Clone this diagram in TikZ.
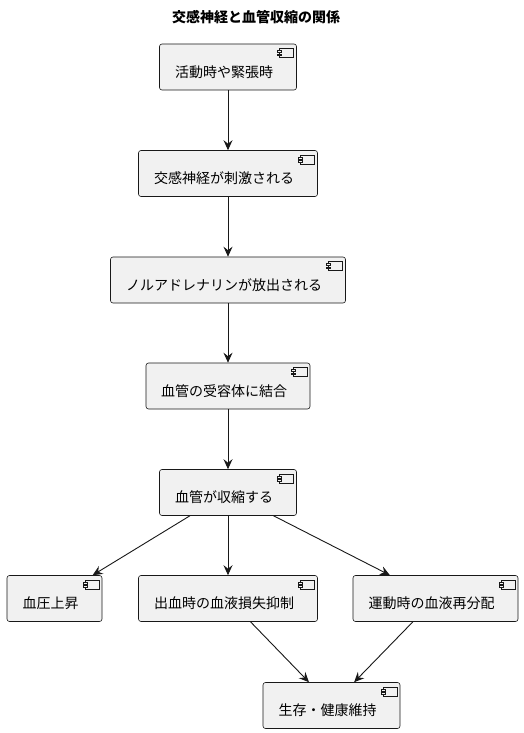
\documentclass[tikz,border=0pt]{standalone}
\usepackage{fontspec}
\setmainfont{Noto Sans CJK JP}
\usetikzlibrary{arrows.meta}
\definecolor{boxfill}{HTML}{F1F1F1}
\definecolor{boxline}{HTML}{181818}
\tikzset{
  comp/.style={draw=boxline, fill=boxfill, line width=0.6pt, rounded corners=2.5pt, minimum height=46pt, inner sep=0pt},
  lbl/.style={font=\fontsize{14pt}{16pt}\selectfont, inner sep=0pt, text=black},
  arr/.style={draw=boxline, line width=0.9pt, -{Stealth[length=10pt, width=9pt, inset=3.5pt]}},
  icon/.style={draw=boxline, fill=boxfill, line width=0.5pt}
}
\newcommand{\compicon}[1]{%
  \draw[icon] ([xshift=-17.5pt, yshift=-5pt]#1.north east) rectangle ([xshift=-3.5pt, yshift=-14pt]#1.north east);
  \draw[icon] ([xshift=-19.5pt, yshift=-6.8pt]#1.north east) rectangle ([xshift=-15.5pt, yshift=-8.6pt]#1.north east);
  \draw[icon] ([xshift=-19.5pt, yshift=-10.2pt]#1.north east) rectangle ([xshift=-15.5pt, yshift=-12pt]#1.north east);
}
\newcommand{\comp}[5]{% name, x, y, width, text
  \node[comp, minimum width=#4pt] (#1) at (#2,#3) {};
  \compicon{#1}
  \node[lbl] (#1t) at ([xshift=-4pt, yshift=-5pt]#1.center) {#5};
}
\begin{document}
\begin{tikzpicture}[x=1pt, y=-1pt]
\useasboundingbox[fill=white] (0,0) rectangle (523,733);
\node[font=\fontsize{14pt}{16pt}\selectfont\bfseries, inner sep=0pt] (title) at (256,17) {交感神経と血管収縮の関係};
\comp{b1}{228}{67}{137}{活動時や緊張時}
\comp{b2}{228}{173.5}{179}{交感神経が刺激される}
\comp{b3}{228}{280}{235}{ノルアドレナリンが放出される}
\comp{b4}{228}{386}{164}{血管の受容体に結合}
\comp{b5}{228}{492.5}{137}{血管が収縮する}
\comp{b6}{54.5}{598.5}{95}{血圧上昇}
\comp{b7}{228}{598.5}{179}{出血時の血液損失抑制}
\comp{b8}{435.5}{598.5}{165}{運動時の血液再分配}
\comp{b9}{331.5}{705.5}{137}{生存・健康維持}
\draw[arr] (b1.south) -- (b2.north);
\draw[arr] (b2.south) -- (b3.north);
\draw[arr] (b3.south) -- (b4.north);
\draw[arr] (b4.south) -- (b5.north);
\draw[arr] (b5) -- (b6);
\draw[arr] (b5.south) -- (b7.north);
\draw[arr] (b5) -- (b8);
\draw[arr] (b7) -- (b9);
\draw[arr] (b8) -- (b9);
\end{tikzpicture}
\end{document}
